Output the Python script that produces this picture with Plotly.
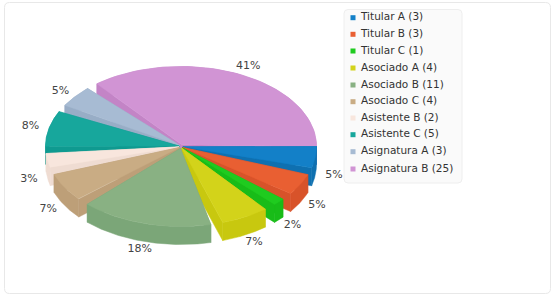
import numpy as np
import plotly.graph_objects as go

categories = ["Titular A", "Titular B", "Titular C", "Asociado A", "Asociado B",
              "Asociado C", "Asistente B", "Asistente C", "Asignatura A", "Asignatura B"]
counts = [3, 3, 1, 4, 11, 4, 2, 5, 3, 25]
top_colors = ["#1380C8", "#E95F32", "#1FCB1F", "#D3D31A", "#89B183",
              "#C9AC84", "#F8E6DD", "#17A79C", "#A7BBD3", "#D194D4"]
side_colors = ["#0F70B0", "#D8532A", "#18BC18", "#C8C80F", "#7BA678",
               "#BD9F78", "#EFDCD2", "#0F9A90", "#98ADC6", "#C384C6"]

CX, CY, RX, RY, DEPTH = 181.0, 146.5, 135.5, 80.0, 18.0
GAP = 5.2
EXPLODE = 2.0

total = sum(counts)
scale = (360 - GAP * (len(counts) - 1)) / 360
starts, ends = [], []
pos = 0.0
for v in counts:
    sweep = v / total * 360 * scale
    starts.append(pos)
    ends.append(pos + sweep)
    pos += sweep + GAP


def rim(t):
    r = np.radians(np.asarray(t, dtype=float))
    return RX * np.cos(r), RY * np.sin(r)


fig = go.Figure()
order = sorted(range(len(counts)), key=lambda i: np.sin(np.radians((starts[i] + ends[i]) / 2)))


def poly(xs, ys, color):
    fig.add_trace(go.Scatter(x=xs, y=ys, mode="lines", fill="toself", fillcolor=color,
                             line=dict(color=color, width=0.5), hoverinfo="skip", showlegend=False))


for i in order:
    a, b = starts[i], ends[i]
    ox, oy = rim((a + b) / 2)
    dx, dy = EXPLODE * ox / RX, EXPLODE * oy / RY
    px, py = rim(np.linspace(a, b, 60))
    px, py = CX + px, CY + py
    ax, ay = CX + dx, CY + dy
    for ex, ey in ((px[0], py[0]), (px[-1], py[-1])):
        poly([ax, ex, ex, ax, ax], [ay, ey, ey + DEPTH, ay + DEPTH, ay], side_colors[i])
    poly(np.r_[px, px[::-1], px[0]], np.r_[py, py[::-1] + DEPTH, py[0]], side_colors[i])
    poly(np.r_[ax, px, ax], np.r_[ay, py, ay], top_colors[i])

lx, ly, lt = [], [], []
for i, v in enumerate(counts):
    ox, oy = rim((starts[i] + ends[i]) / 2)
    lx.append(CX + ox * 1.14)
    ly.append(CY + oy * 1.11 + (17 if oy > 0 else 0))
    lt.append(f"{round(100 * v / total)}%")
fig.add_trace(go.Scatter(x=lx, y=ly, mode="text", text=lt, showlegend=False, hoverinfo="skip",
                         textposition="middle center", textfont=dict(size=11, color="#444444")))

ky = [17.7, 34.3, 51, 68, 85, 101.7, 118, 134.7, 151.7, 169]
labels = [f"{c} ({v})" for c, v in zip(categories, counts)]
fig.add_trace(go.Scatter(x=[353] * len(ky), y=ky, mode="markers",
                         marker=dict(symbol="square", size=5, color=top_colors),
                         hoverinfo="skip", showlegend=False))
fig.add_trace(go.Scatter(x=[361] * len(ky), y=ky, mode="text", text=labels, textposition="middle right",
                         textfont=dict(size=10.5, color="#333333"), hoverinfo="skip", showlegend=False))


def rounded(x0, y0, x1, y1, r):
    return (f"M{x0+r},{y0} L{x1-r},{y0} Q{x1},{y0} {x1},{y0+r} L{x1},{y1-r} Q{x1},{y1} {x1-r},{y1} "
            f"L{x0+r},{y1} Q{x0},{y1} {x0},{y1-r} L{x0},{y0+r} Q{x0},{y0} {x0+r},{y0} Z")


fig.update_layout(
    width=556, height=298, margin=dict(l=0, r=0, t=0, b=0), showlegend=False,
    paper_bgcolor="white", plot_bgcolor="white",
    font=dict(family="DejaVu Sans"),
    xaxis=dict(range=[0, 556], visible=False, fixedrange=True),
    yaxis=dict(range=[298, 0], visible=False, fixedrange=True),
    shapes=[
        dict(type="path", path=rounded(4.5, 2.5, 550.5, 293.5, 5), line=dict(color="#E8E8E8", width=1),
             fillcolor="white", layer="below"),
        dict(type="path", path=rounded(344, 9.5, 462, 183, 4), line=dict(color="#EEEEEE", width=1),
             fillcolor="#FAFAFA", layer="below"),
    ],
)
fig.write_html("out.html", config=dict(displayModeBar=False),
               post_script="document.body.style.margin='0';document.body.style.overflow='hidden';")
